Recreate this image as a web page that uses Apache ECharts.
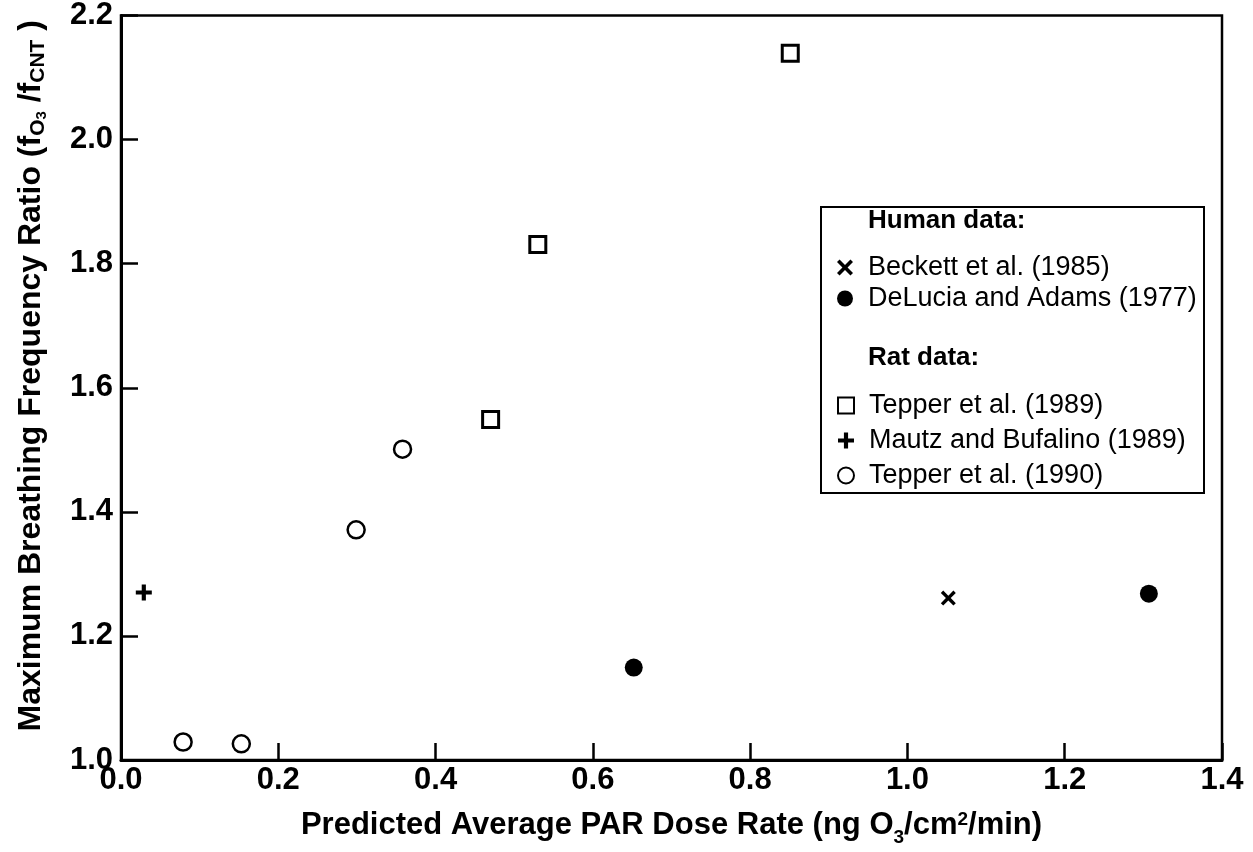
<!DOCTYPE html>
<html>
<head>
<meta charset="utf-8">
<script src="https://cdn.jsdelivr.net/npm/echarts@6/dist/echarts.min.js"></script>
<style>
html,body{margin:0;padding:0;background:#fff;}
#chart{width:1253px;height:852px;}
</style>
</head>
<body>
<div id="chart"></div>
<script>
// ---- data ----
const seriesNames = ['Beckett et al. (1985)', 'DeLucia and Adams (1977)', 'Tepper et al. (1989)', 'Mautz and Bufalino (1989)', 'Tepper et al. (1990)'];
const beckett1985 = [[1.052, 1.261]];
const delucia1977 = [[0.652, 1.149], [1.307, 1.268]];
const tepper1989 = [[0.470, 1.549], [0.530, 1.831], [0.851, 2.139]];
const mautz1989 = [[0.029, 1.270]];
const tepper1990 = [[0.079, 1.029], [0.153, 1.026], [0.299, 1.371], [0.358, 1.501]];
const xAxisRange = [0, 1.4];
const yAxisRange = [1.0, 2.2];
const tickStep = 0.2;
const humanHeading = 'Human data:';
const ratHeading = 'Rat data:';

const FONT = '"Liberation Sans", Arial, Helvetica, sans-serif';
const crossPath = 'path://M1.6,0 L5,3.4 L8.4,0 L10,1.6 L6.6,5 L10,8.4 L8.4,10 L5,6.6 L1.6,10 L0,8.4 L3.4,5 L0,1.6 Z';
const plusPath = 'path://M3.7,0 H6.3 V3.7 H10 V6.3 H6.3 V10 H3.7 V6.3 H0 V3.7 H3.7 Z';

const chart = echarts.init(document.getElementById('chart'), null, {renderer: 'canvas'});

const legendText = {fontFamily: FONT, fontSize: 27, color: '#000', lineHeight: 26, padding: [0,0,0,10]};

const option = {
  backgroundColor: '#ffffff',
  animation: false,
  textStyle: {fontFamily: FONT, color: '#000'},
  grid: {left: 121, right: 31, top: 13, bottom: 92, show: true, borderColor: '#000', borderWidth: 2.5, backgroundColor: 'transparent'},
  xAxis: {
    type: 'value', min: xAxisRange[0], max: xAxisRange[1], interval: tickStep,
    name: 'Predicted Average PAR Dose Rate (ng O{sub|3}/cm{sup|2}/min)',
    nameLocation: 'middle', nameGap: 50,
    nameTextStyle: {fontFamily: FONT, fontSize: 31, fontWeight: 'bold', color: '#000', rich: {
      sub: {fontSize: 19, fontFamily: FONT, fontWeight: 'bold', verticalAlign: 'bottom', lineHeight: 17, padding: [0,0,-6,0]},
      sup: {fontSize: 19, fontFamily: FONT, fontWeight: 'bold', verticalAlign: 'top', lineHeight: 17}
    }},
    axisLine: {show: true, lineStyle: {color: '#000', width: 3}},
    axisTick: {show: true, inside: true, length: 17, lineStyle: {color: '#000', width: 2.5}},
    axisLabel: {fontFamily: FONT, fontSize: 31, fontWeight: 'bold', color: '#000', margin: 5, formatter: v => v.toFixed(1)},
    splitLine: {show: false}
  },
  yAxis: {
    type: 'value', min: yAxisRange[0], max: yAxisRange[1], interval: tickStep,
    name: 'Maximum Breathing Frequency Ratio (f{sub|O}{sub2|3} /f{sub|CNT} )',
    nameLocation: 'middle', nameGap: 72, nameRotate: 90,
    nameTextStyle: {fontFamily: FONT, fontSize: 32, fontWeight: 'bold', color: '#000', lineHeight: 36, padding: [0, 0, 0, 24], rich: {
      sub: {fontSize: 21, fontFamily: FONT, fontWeight: 'bold', verticalAlign: 'bottom', lineHeight: 20},
      sub2: {fontSize: 15, fontFamily: FONT, fontWeight: 'bold', verticalAlign: 'bottom', lineHeight: 13}
    }},
    axisLine: {show: true, lineStyle: {color: '#000', width: 3}},
    axisTick: {show: true, inside: true, length: 17, lineStyle: {color: '#000', width: 2.5}},
    axisLabel: {fontFamily: FONT, fontSize: 31, fontWeight: 'bold', color: '#000', margin: 8, formatter: v => v.toFixed(1)},
    splitLine: {show: false}
  },
  legend: [
    {
      data: [seriesNames[0], seriesNames[1]],
      orient: 'vertical', left: 837, top: 254, padding: 0,
      itemWidth: 16, itemHeight: 16, itemGap: 4,
      textStyle: legendText,
      selectedMode: false
    },
    {
      data: [seriesNames[2], seriesNames[3], seriesNames[4]],
      orient: 'vertical', left: 837, top: 392, padding: 0,
      itemWidth: 16, itemHeight: 16, itemGap: 8,
      textStyle: legendText,
      selectedMode: false
    }
  ],
  graphic: [
    {type: 'rect', z: 1, shape: {x: 821, y: 207, width: 383, height: 286}, style: {fill: '#fff', stroke: '#000', lineWidth: 2}},
    {type: 'text', z: 2, left: 868, top: 208, style: {text: humanHeading, fontFamily: FONT, fontSize: 26, fontWeight: 'bold', fill: '#000'}},
    {type: 'text', z: 2, left: 868, top: 345, style: {text: ratHeading, fontFamily: FONT, fontSize: 26, fontWeight: 'bold', fill: '#000'}}
  ],
  series: [
    {name: seriesNames[0], type: 'scatter', data: beckett1985, symbol: crossPath, symbolSize: 15,
      itemStyle: {color: '#000', opacity: 1}},
    {name: seriesNames[1], type: 'scatter', data: delucia1977, symbol: 'circle', symbolSize: 18,
      itemStyle: {color: '#000', opacity: 1}},
    {name: seriesNames[2], type: 'scatter', data: tepper1989, symbol: 'rect', symbolSize: 16,
      itemStyle: {color: '#fff', borderColor: '#000', borderWidth: 3, opacity: 1}},
    {name: seriesNames[3], type: 'scatter', data: mautz1989, symbol: plusPath, symbolSize: 16,
      itemStyle: {color: '#000', opacity: 1}},
    {name: seriesNames[4], type: 'scatter', data: tepper1990, symbol: 'circle', symbolSize: 17,
      itemStyle: {color: '#fff', borderColor: '#000', borderWidth: 2.5, opacity: 1}}
  ]
};
chart.setOption(option);
</script>
</body>
</html>
